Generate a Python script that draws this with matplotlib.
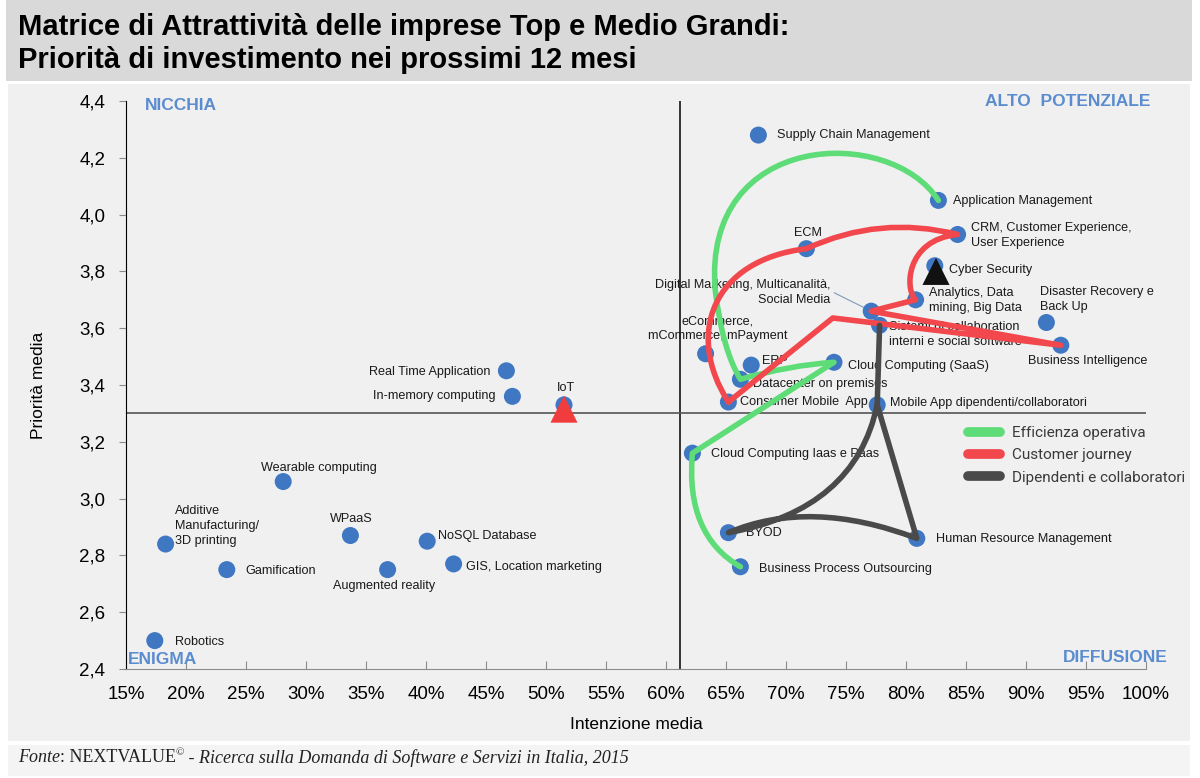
import numpy as np
import matplotlib
matplotlib.use('Agg')
import matplotlib.pyplot as plt
from matplotlib.path import Path
from matplotlib.patches import PathPatch, Rectangle
from matplotlib.lines import Line2D
from matplotlib.ticker import FuncFormatter, MultipleLocator
from matplotlib import font_manager as fm

# ---- data: intention (%) vs priority (1-5 scale) ----
keys = ['scm', 'appmgmt', 'crm', 'ecm', 'cyber', 'analytics', 'digital', 'sistemi',
        'disaster', 'bi', 'ecommerce', 'erp', 'saas', 'datacenter', 'consumer',
        'mobileapp', 'iaas', 'byod', 'hr', 'bpo', 'realtime', 'inmemory', 'iot',
        'wearable', 'additive', 'wpaas', 'nosql', 'gis', 'gamification',
        'augmented', 'robotics']
labels = ['Supply Chain Management', 'Application Management',
          'CRM, Customer Experience,\nUser Experience', 'ECM', 'Cyber Security',
          'Analytics, Data\nmining, Big Data',
          'Digital Marketing, Multicanalità,\nSocial Media',
          'Sistemi di collaboration\ninterni e social software',
          'Disaster Recovery e\nBack Up', 'Business Intelligence',
          'eCommerce,\nmCommerce, mPayment', 'ERP', 'Cloud Computing (SaaS)',
          'Datacenter on premises', 'Consumer Mobile  App',
          'Mobile App dipendenti/collaboratori', 'Cloud Computing Iaas e Paas',
          'BYOD', 'Human Resource Management', 'Business Process Outsourcing',
          'Real Time Application', 'In-memory computing', 'IoT',
          'Wearable computing', 'Additive\nManufacturing/\n3D printing', 'WPaaS',
          'NoSQL Database', 'GIS, Location marketing', 'Gamification',
          'Augmented reality', 'Robotics']
intenzione = [67.7, 82.7, 84.3, 71.7, 82.4, 80.8, 77.1, 77.8,
              91.7, 92.9, 63.3, 67.1, 74.0, 66.2, 65.2,
              77.6, 62.2, 65.2, 80.9, 66.2, 46.7, 47.2, 51.5,
              28.1, 18.3, 33.7, 40.1, 42.3, 23.4,
              36.8, 17.4]
priorita = [4.28, 4.05, 3.93, 3.88, 3.82, 3.70, 3.66, 3.61,
            3.62, 3.54, 3.51, 3.47, 3.48, 3.42, 3.34,
            3.33, 3.16, 2.88, 2.86, 2.76, 3.45, 3.36, 3.33,
            3.06, 2.84, 2.87, 2.85, 2.77, 2.75,
            2.75, 2.50]

# highlighted technologies (triangles)
tri_x = [82.5, 51.5]
tri_y = [3.80, 3.315]
tri_colors = ['#111111', '#f03c3c']

x_mid, y_mid = 61.2, 3.30   # quadrant split

pt = dict(zip(keys, zip(intenzione, priorita)))

# routes of the three "journeys" (named points + bezier control points)
green_route = [('M', 'appmgmt'),
               ('C', (78.7, 4.315), (63.0, 4.298), (64.1, 3.735)),
               ('Q', (64.7, 3.523), 'datacenter'),
               ('Q', (70.3, 3.470), 'saas'),
               ('L', 'iaas'),
               ('Q', (61.6, 2.872), 'bpo')]
red_route = [('M', 'consumer'),
             ('C', (61.6, 3.577), (63.8, 3.840), 'ecm'),
             ('Q', (77.8, 3.999), 'crm'),
             ('C', (79.9, 3.911), (79.9, 3.734), 'analytics'),
             ('L', 'digital'),
             ('L', 'bi'),
             ('L', (73.9, 3.636)),
             ('L', 'consumer')]
dark_route = [('M', 'sistemi'),
              ('L', 'mobileapp'),
              ('Q', (75.75, 2.960), 'byod'),
              ('Q', (72.0, 3.002), 'hr'),
              ('L', 'mobileapp')]

routes = [('Efficienza operativa', '#5ddc77', green_route),
          ('Customer journey', '#f2474c', red_route),
          ('Dipendenti e collaboratori', '#4a4a4a', dark_route)]

# label placement (offset in pixels, alignment)
label_pos = {
    'scm': (19, 0, 'left'), 'appmgmt': (15, -1, 'left'), 'crm': (13, -1, 'left'),
    'ecm': (2, 16, 'center'), 'cyber': (14, -4, 'left'), 'analytics': (13, -1, 'left'),
    'digital': (-41, 19, 'right'), 'sistemi': (9, -9, 'left'),
    'disaster': (-6, 23, 'left'), 'bi': (-33, -16, 'left'),
    'ecommerce': (12, 25, 'center'), 'erp': (11, 4, 'left'), 'saas': (14, -4, 'left'),
    'datacenter': (13, -5, 'left'), 'consumer': (12, 0, 'left'),
    'mobileapp': (13, 2, 'left'), 'iaas': (19, -1, 'left'), 'byod': (18, 0, 'left'),
    'hr': (19, -1, 'left'), 'bpo': (19, -2, 'left'), 'realtime': (-16, -1, 'right'),
    'inmemory': (-17, 0, 'right'), 'iot': (2, 17, 'center'),
    'wearable': (36, 14, 'center'), 'additive': (9, 18, 'left'),
    'wpaas': (1, 17, 'center'), 'nosql': (11, 5, 'left'), 'gis': (12, -3, 'left'),
    'gamification': (19, -1, 'left'), 'augmented': (-3, -16, 'center'),
    'robotics': (20, -1, 'left'),
}

# ---- fonts ----
installed = {f.name for f in fm.fontManager.ttflist}
if 'Liberation Sans Narrow' in installed:
    narrow, shrink = 'Liberation Sans Narrow', 1.0
else:
    narrow, shrink = 'Liberation Sans', 0.83
plt.rcParams['font.family'] = ['Liberation Sans', 'DejaVu Sans']

W, H = 1200, 778
fig = plt.figure(figsize=(W / 100, H / 100), dpi=100, facecolor='white')


def fx(px):
    return px / W


def fy(py):
    return 1 - py / H


# background bands
for (x0, y1, w, h, col) in [(6, 81, 1186, 81, '#d9d9d9'),
                            (8, 741, 1182, 657, '#f0f0f0'),
                            (8, 776, 1182, 31, '#f4f4f4')]:
    fig.patches.append(Rectangle((fx(x0), fy(y1)), w / W, h / H, transform=fig.transFigure,
                                 facecolor=col, edgecolor='none', zorder=-10))

title_size = 21 if shrink < 1 else 22
fig.text(fx(18), fy(27), 'Matrice di Attrattività delle imprese Top e Medio Grandi:',
         family=narrow, weight='bold', fontsize=title_size, va='center', ha='left')
fig.text(fx(18), fy(60), 'Priorità di investimento nei prossimi 12 mesi',
         family=narrow, weight='bold', fontsize=title_size, va='center', ha='left')

ax = fig.add_axes([fx(126), fy(669), (1146 - 126) / W, (669 - 101) / H])
ax.set_facecolor('none')
ax.set_xlim(15, 100)
ax.set_ylim(2.4, 4.4)

ax.xaxis.set_major_locator(MultipleLocator(5))
ax.yaxis.set_major_locator(MultipleLocator(0.2))
ax.xaxis.set_major_formatter(FuncFormatter(lambda v, p: f'{v:.0f}%'))
ax.yaxis.set_major_formatter(FuncFormatter(lambda v, p: f'{v:.1f}'.replace('.', ',')))
ax.tick_params(axis='x', direction='in', length=6, color='#8c8c8c', labelsize=13.5, pad=12)
ax.tick_params(axis='y', direction='out', length=5, color='#8c8c8c', labelsize=13.5, pad=10)
for s in ['top', 'right']:
    ax.spines[s].set_visible(False)
ax.spines['left'].set_color('black')
ax.spines['bottom'].set_color('#8c8c8c')

ax.set_xlabel('Intenzione media', fontsize=12.5, labelpad=10)
ax.set_ylabel('Priorità media', fontsize=12.5, labelpad=24)

ax.axvline(x_mid, color='black', lw=1.1, zorder=1)
ax.axhline(y_mid, color='#555555', lw=1.2, zorder=1)

# leader line + point labels
for k, lab in zip(keys, labels):
    dx, dy, ha = label_pos[k]
    extra = {}
    if k == 'digital':
        extra['arrowprops'] = dict(arrowstyle='-', color='#8aa2bf', lw=0.9,
                                   shrinkA=1, shrinkB=2, relpos=(1.0, 0.55))
    ax.annotate(lab, pt[k], xytext=(dx, dy), textcoords='offset pixels',
                ha=ha, va='center', multialignment=ha, family=narrow,
                fontsize=11 * shrink, color='#1a1a1a', linespacing=1.35, zorder=2,
                **extra)

ax.scatter(intenzione, priorita, s=150, color='#3f77c2', edgecolor='none', zorder=3)

for name, col, route in routes:
    verts, codes = [], []
    for op, *pts in route:
        pts = [pt[p] if isinstance(p, str) else p for p in pts]
        codes += {'M': [Path.MOVETO], 'L': [Path.LINETO],
                  'Q': [Path.CURVE3] * 2, 'C': [Path.CURVE4] * 3}[op]
        verts += pts
    ax.add_patch(PathPatch(Path(verts, codes), fill=False, edgecolor=col, lw=4,
                           capstyle='round', joinstyle='round', zorder=4))

for x, y, c in zip(tri_x, tri_y, tri_colors):
    ax.scatter([x], [y], marker='^', s=380, color=c, edgecolor='none', zorder=5)

# quadrant names
qcol = '#5b8ccf'
qkw = dict(fontsize=12.5, weight='bold', color=qcol)
fig.text(fx(145), fy(106), 'NICCHIA', ha='left', va='center', **qkw)
fig.text(fx(1150), fy(101), 'ALTO  POTENZIALE', ha='right', va='center', **qkw)
fig.text(fx(128), fy(660), 'ENIGMA', ha='left', va='center', **qkw)
fig.text(fx(1168), fy(657), 'DIFFUSIONE', ha='right', va='center', **qkw)

handles = [Line2D([], [], color=c, lw=7, solid_capstyle='round') for _, c, _ in routes]
ax.legend(handles, [n for n, _, _ in routes], loc='upper left',
          bbox_to_anchor=(fx(968), fy(426)), bbox_transform=fig.transFigure,
          frameon=False, handlelength=2.1, handletextpad=0.75,
          labelspacing=0.55, borderpad=0, borderaxespad=0,
          prop={'family': 'Roboto', 'size': 11.0}, labelcolor='#3a3a3a')

# source line with mixed styles
fig.canvas.draw()
renderer = fig.canvas.get_renderer()
parts = [('Fonte', 'italic', 13, 0), (': NEXTVALUE', 'normal', 13, 0),
         ('©', 'normal', 8, 5), (' - Ricerca sulla Domanda di Software e Servizi in Italia, 2015',
                                 'italic', 13, 0)]
xpos = 18
for txt, style, size, rise in parts:
    t = fig.text(fx(xpos), fy(758 - rise), txt, family='Liberation Serif', style=style,
                 fontsize=size, color='#222222', ha='left', va='center')
    xpos += t.get_window_extent(renderer).width

fig.savefig('out.png', dpi=100, facecolor='white')
